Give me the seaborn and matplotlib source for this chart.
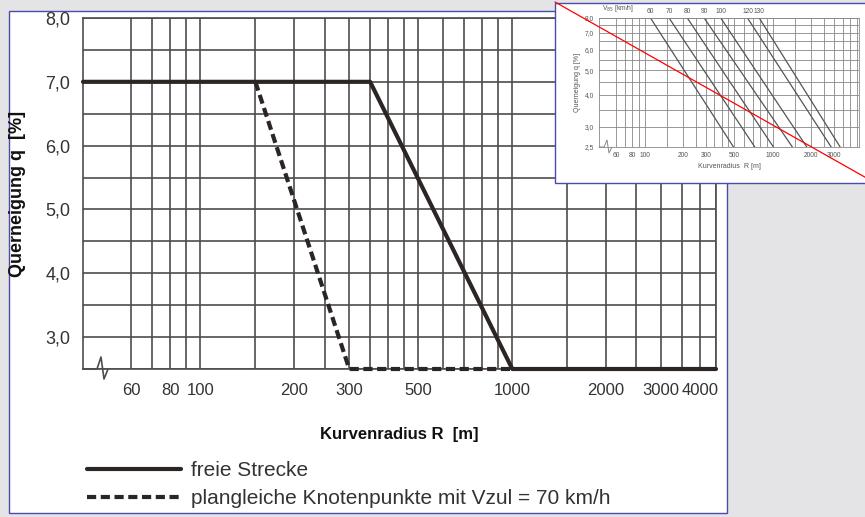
import matplotlib
matplotlib.use("Agg")
import numpy as np
import pandas as pd
import matplotlib.pyplot as plt
import seaborn as sns
from matplotlib.lines import Line2D
from matplotlib.patches import Rectangle
from matplotlib.ticker import FixedLocator, NullFormatter

# ── Data: main chart ─────────────────────────────────────────────────
radius_free = [42, 350, 1000, 4500]
q_free = [7.0, 7.0, 2.5, 2.5]
radius_junction = [150, 300, 1000]
q_junction = [7.0, 2.5, 2.5]

x_major = [60, 80, 100, 200, 300, 500, 1000, 2000, 3000, 4000]
x_grid = [60, 70, 80, 90, 100, 150, 200, 250, 300, 350, 400, 450, 500,
          600, 700, 800, 900, 1000, 1500, 2000, 2500, 3000, 3500, 4000, 4500]
y_major = [3.0, 4.0, 5.0, 6.0, 7.0, 8.0]
y_major_labels = ["3,0", "4,0", "5,0", "6,0", "7,0", "8,0"]
y_grid = [2.5, 3.0, 3.5, 4.0, 4.5, 5.0, 5.5, 6.0, 6.5, 7.0, 7.5, 8.0]

# ── Data: inset (small thumbnail chart) ──────────────────────────────
v85 = [60, 70, 80, 90, 100, 120, 130]
r_at_q8 = [111, 155, 215, 291, 392, 634, 783]
r_at_q25 = [493, 723, 1010, 1420, 1840, 2850, 3350]
inset_x_major = [60, 80, 100, 200, 300, 500, 1000, 2000, 3000]
inset_y_major = [2.5, 3.0, 4.0, 5.0, 6.0, 7.0, 8.0]
inset_y_labels = ["2,5", "3,0", "4,0", "5,0", "6,0", "7,0", "8,0"]

W, H = 865, 517
GRID = "#4d4d4d"
LINE = "#2b2523"
TXT = "#333333"

sns.set_style("white")
plt.rcParams["font.family"] = ["Liberation Sans", "DejaVu Sans"]

fig = plt.figure(figsize=(W / 100, H / 100), dpi=100, facecolor="#e4e4e7")

# white panel behind the main chart
panel = Rectangle((9 / W, 1 - 513 / H), 718 / W, 502 / H, transform=fig.transFigure,
                  facecolor="white", edgecolor="#4b4ba8", lw=1.0, zorder=-1)
fig.add_artist(panel)

# ── Main chart ───────────────────────────────────────────────────────
ax = fig.add_axes([83 / W, 1 - 369 / H, 633 / W, 351 / H])
ax.patch.set_alpha(0)
ax.set_xscale("log")
ax.set_xlim(42, 4500)
ax.set_ylim(2.5, 8.0)

df_free = pd.DataFrame({"R": radius_free, "q": q_free})
df_junc = pd.DataFrame({"R": radius_junction, "q": q_junction})
sns.lineplot(data=df_free, x="R", y="q", ax=ax, color=LINE, lw=3.0,
             label="freie Strecke", clip_on=False, zorder=4)
sns.lineplot(data=df_junc, x="R", y="q", ax=ax, color=LINE, lw=3.0,
             label="plangleiche Knotenpunkte mit Vzul = 70 km/h", clip_on=False, zorder=3)
ax.lines[1].set_dashes([2.2, 1.1])
ax.lines[1].set_dash_capstyle("butt")

ax.xaxis.set_major_locator(FixedLocator(x_major))
ax.xaxis.set_minor_locator(FixedLocator([v for v in x_grid if v not in x_major]))
ax.set_xticks(x_major, labels=[str(v) for v in x_major])
ax.xaxis.set_minor_formatter(NullFormatter())
ax.yaxis.set_major_locator(FixedLocator(y_major))
ax.set_yticks(y_major, labels=y_major_labels)
ax.yaxis.set_minor_locator(FixedLocator([v for v in y_grid if v not in y_major]))

ax.grid(True, which="both", color=GRID, lw=1.2)
ax.set_axisbelow(True)
for s in ax.spines.values():
    s.set_color(GRID)
    s.set_linewidth(1.2)
ax.tick_params(axis="both", which="major", direction="out", color=GRID, width=1.2,
               labelcolor=TXT)
ax.tick_params(axis="x", which="major", length=6, pad=4, labelsize=12)
ax.tick_params(axis="y", which="major", length=7, pad=2, labelsize=13)
ax.tick_params(which="minor", length=0)

# axis break mark at the bottom left
bx = [(v - 83) / 633 for v in [83, 97, 101, 104, 108]]
by = [(369 - v) / 351 for v in [369, 369, 357, 379, 369]]
ax.plot(bx, by, transform=ax.transAxes, color=GRID, lw=1.2, clip_on=False, zorder=5)

ax.set_xlabel("Kurvenradius R  [m]", fontsize=12, fontweight="bold", color="#111111")
ax.xaxis.set_label_coords(0.5, -0.165)
ax.set_ylabel("Querneigung q  [%]", fontsize=13, fontweight="bold", color="#111111")
ax.yaxis.set_label_coords(-0.09, 0.5)

handles, labels = ax.get_legend_handles_labels()
ax.get_legend().remove()
fig.legend(handles, labels, loc="upper left", bbox_to_anchor=(87 / W, 1 - 461 / H),
           frameon=False, fontsize=15, handlelength=4.5, handletextpad=0.5,
           labelspacing=0.45, borderpad=0, borderaxespad=0, labelcolor=TXT)

# ── Inset thumbnail ──────────────────────────────────────────────────
box = Rectangle((555 / W, 1 - 183 / H), 315 / W, 180 / H, transform=fig.transFigure,
                facecolor="white", edgecolor="#4b4ba8", lw=1.0, zorder=2)
fig.add_artist(box)

axi = fig.add_axes([599 / W, 1 - 147 / H, 260 / W, 129 / H])
axi.set_zorder(3)
axi.set_facecolor("white")
axi.set_xscale("log")
axi.set_yscale("log")
axi.set_xlim(44, 4700)
axi.set_ylim(2.5, 8.0)

df_in = pd.DataFrame({
    "v85": v85 + v85,
    "R": r_at_q8 + r_at_q25,
    "q": [8.0] * len(v85) + [2.5] * len(v85),
})
sns.lineplot(data=df_in, x="R", y="q", units="v85", estimator=None, ax=axi,
             color="#555555", lw=0.9)
for v, r in zip(v85, r_at_q8):
    axi.annotate(str(v), (r, 8.0), xytext=(0, 2), textcoords="offset points",
                 ha="center", va="bottom", fontsize=4.8, color="#555555")
axi.text(0.01, 1.03, "V$_{85}$ [km/h]", transform=axi.transAxes, fontsize=4.8,
         color="#555555", va="bottom", ha="left")

axi.xaxis.set_major_locator(FixedLocator(inset_x_major))
axi.set_xticks(inset_x_major, labels=[str(v) for v in inset_x_major])
axi.xaxis.set_minor_locator(FixedLocator([v for v in x_grid if v not in inset_x_major]))
axi.xaxis.set_minor_formatter(NullFormatter())
axi.yaxis.set_major_locator(FixedLocator(inset_y_major))
axi.set_yticks(inset_y_major, labels=inset_y_labels)
axi.yaxis.set_minor_locator(FixedLocator([v for v in y_grid if v not in inset_y_major]))
axi.yaxis.set_minor_formatter(NullFormatter())
axi.grid(True, which="both", color="#888888", lw=0.6)
axi.set_axisbelow(True)
for s in axi.spines.values():
    s.set_color("#888888")
    s.set_linewidth(0.6)
axi.tick_params(which="major", length=2, width=0.5, color="#888888", pad=1.5,
                labelsize=4.8, labelcolor="#555555")
axi.tick_params(which="minor", length=0)
axi.set_xlabel("Kurvenradius  R [m]", fontsize=5, color="#555555", labelpad=3)
axi.set_ylabel("Querneigung q [%]", fontsize=5, color="#555555", labelpad=3)

ibx = [(v - 599) / 260 for v in [599, 604, 607, 609, 612]]
iby = [(147 - v) / 129 for v in [147, 147, 140, 153, 147]]
axi.plot(ibx, iby, transform=axi.transAxes, color="#777777", lw=0.6, clip_on=False)

red = Line2D([555 / W, 870 / W], [1 - 2 / H, 1 - 180 / H], transform=fig.transFigure,
             color="red", lw=0.9, zorder=6)
fig.add_artist(red)

fig.savefig("out.png", dpi=100, facecolor=fig.get_facecolor())
